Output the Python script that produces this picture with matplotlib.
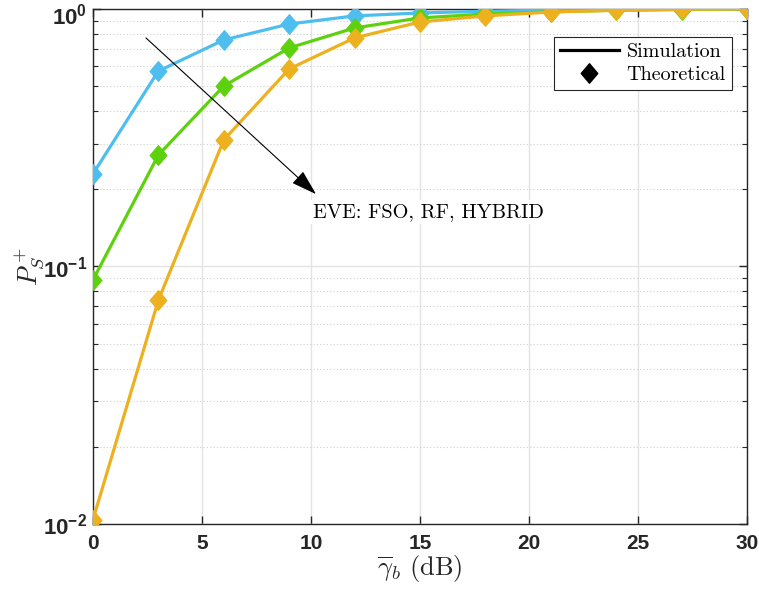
import numpy as np
import matplotlib
matplotlib.use('Agg')
import matplotlib.pyplot as plt
import matplotlib.transforms as mtransforms
from matplotlib.path import Path
from matplotlib.lines import Line2D
from matplotlib.ticker import FixedLocator, FixedFormatter, LogLocator, NullFormatter

plt.rcParams['mathtext.fontset'] = 'custom'
plt.rcParams['mathtext.bf'] = 'Liberation Sans:bold'
plt.rcParams['mathtext.rm'] = 'Liberation Sans:bold'
plt.rcParams['axes.formatter.use_mathtext'] = True

# Data
snr_db = [0, 3, 6, 9, 12, 15, 18, 21, 24, 27, 30]
p_fso = [0.229, 0.574, 0.758, 0.874, 0.940, 0.965, 0.980, 0.990, 0.996, 0.999, 1.0]
p_rf = [0.0887, 0.271, 0.502, 0.706, 0.844, 0.923, 0.956, 0.975, 0.988, 0.995, 1.0]
p_hybrid = [0.0104, 0.074, 0.310, 0.585, 0.772, 0.890, 0.940, 0.973, 0.990, 0.997, 1.0]
series_names = ['FSO', 'RF', 'HYBRID']
series_colors = ['#4DBEEE', '#5ED10E', '#EDB120']

x_ticks = [0, 5, 10, 15, 20, 25, 30]
y_ticks = [1e-2, 1e-1, 1e0]
y_tick_labels = [r'$\mathbf{10^{-2}}$', r'$\mathbf{10^{-1}}$', r'$\mathbf{10^{0}}$']

# MATLAB-like diamond (a bit taller than wide)
diamond = Path([(0, 1), (0.85, 0), (0, -1), (-0.85, 0), (0, 1)],
               [Path.MOVETO, Path.LINETO, Path.LINETO, Path.LINETO, Path.CLOSEPOLY])

fig = plt.figure(figsize=(7.59, 5.98), dpi=100)
ax = fig.add_axes([0.1225, 0.1237, 0.8617, 0.8613])

for vals, col in zip([p_fso, p_rf, p_hybrid], series_colors):
    ax.plot(snr_db, vals, color=col, lw=2.3, marker=diamond, ms=14,
            markerfacecolor=col, markeredgecolor=col, zorder=3)

ax.set_yscale('log')
ax.set_xlim(0, 30)
ax.set_ylim(1e-2, 1)

ax.xaxis.set_major_locator(FixedLocator(x_ticks))
ax.set_xticklabels([str(t) for t in x_ticks], fontfamily='Liberation Sans',
                   fontweight='bold', fontsize=15, color='#262626')
ax.yaxis.set_major_locator(FixedLocator(y_ticks))
ax.yaxis.set_major_formatter(FixedFormatter(y_tick_labels))
ax.yaxis.set_minor_locator(LogLocator(base=10, subs=np.arange(2, 10)))
ax.yaxis.set_minor_formatter(NullFormatter())
for lab in ax.get_yticklabels():
    lab.set_fontsize(16)
    lab.set_color('#262626')

ax.tick_params(which='both', direction='in', top=True, right=True, color='#262626')
ax.tick_params(which='major', length=6, width=1)
ax.tick_params(which='minor', length=3.5, width=0.8)
ax.tick_params(axis='x', pad=7)
ax.tick_params(axis='y', pad=4)

# keep the top label inside the figure, like MATLAB does
top_lab = ax.yaxis.get_major_ticks()[-1].label1
top_lab.set_transform(top_lab.get_transform() +
                      mtransforms.ScaledTranslation(0, -5 / 100, fig.dpi_scale_trans))

ax.grid(True, which='major', color='#e3e3e3', lw=1.0, ls='-')
ax.grid(True, which='minor', axis='y', color='#d0d0d0', lw=0.8, ls=(0, (1, 2)))
ax.set_axisbelow(True)
for sp in ax.spines.values():
    sp.set_color('#262626')
    sp.set_linewidth(1.0)

ax.set_xlabel(r'$\overline{\gamma}_b\ \mathrm{(dB)}$', math_fontfamily='cm',
              fontsize=19, color='#262626', labelpad=0)
ax.set_ylabel(r'$P_S^+$', math_fontfamily='cm', fontsize=19, color='#262626', labelpad=-2)

# Arrow and annotation
ax.annotate('', xy=(10.23, 0.191), xytext=(2.43, 0.772),
            arrowprops=dict(arrowstyle='-|>,head_length=1.6,head_width=0.5',
                            lw=0.8, color='black', mutation_scale=10,
                            shrinkA=0, shrinkB=0), zorder=4)
ax.text(10.09, 0.163, 'EVE: FSO, RF, HYBRID', family='cmr10', fontsize=14.6,
        va='center', ha='left', zorder=4,
        bbox=dict(facecolor='white', edgecolor='none', pad=2))

handles = [Line2D([], [], color='black', lw=2.3),
           Line2D([], [], color='black', ls='none', marker=diamond, ms=14)]
leg = ax.legend(handles, ['Simulation', 'Theoretical'], loc='upper right',
                bbox_to_anchor=(0.977, 0.946), borderaxespad=0, fancybox=False,
                prop={'family': 'cmr10', 'size': 14.5}, handlelength=2.9,
                handletextpad=0.4, borderpad=0.3, labelspacing=0.25, numpoints=1,
                framealpha=1)
leg.get_frame().set_edgecolor('#262626')
leg.get_frame().set_linewidth(0.8)

fig.savefig('out.png', dpi=100)
